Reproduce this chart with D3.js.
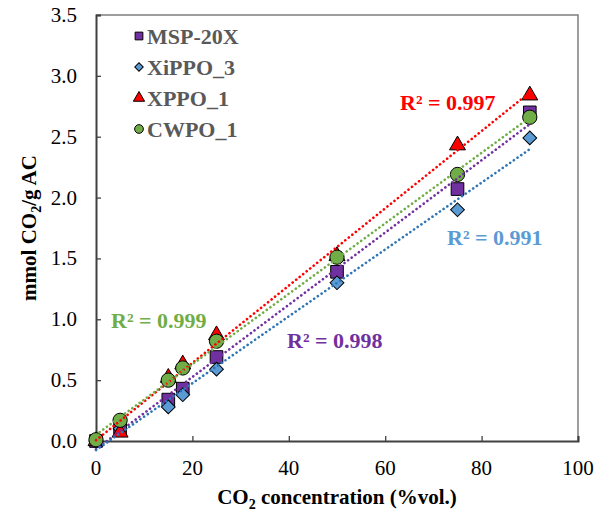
<!DOCTYPE html>
<html>
<head>
<meta charset="utf-8">
<script src="https://cdn.jsdelivr.net/npm/d3@7"></script>
<style>
  body { margin: 0; background: #fff; }
  svg { display: block; font-family: "Liberation Serif", "Times New Roman", serif; }
</style>
</head>
<body>
<svg id="chart" width="599" height="520"></svg>
<script>
// CO2 concentration (%vol.)
const conc = [0, 5, 15, 18, 25, 50, 75, 90];
// mmol CO2 / g AC
const msp20x = [0.00, 0.09, 0.34, 0.43, 0.69, 1.39, 2.07, 2.70];
const xippo3 = [0.00, 0.10, 0.28, 0.38, 0.59, 1.30, 1.90, 2.49];
const xppo1  = [0.00, 0.07, 0.52, 0.63, 0.87, 1.52, 2.43, 2.84];
const cwpo1  = [0.01, 0.17, 0.50, 0.60, 0.82, 1.51, 2.19, 2.66];
const r2Text = ["R² = 0.998", "R² = 0.991", "R² = 0.997", "R² = 0.999"];
const xTicks = [0, 20, 40, 60, 80, 100];
const yTicks = [0, 0.5, 1, 1.5, 2, 2.5, 3, 3.5];

const series = [
  {name: "MSP-20X",  values: msp20x, shape: "square",   fill: "#7030A0", line: "#7030A0", label: "#7030A0", r2: r2Text[0], lx: 287, ly: 348},
  {name: "XiPPO_3",  values: xippo3, shape: "diamond",  fill: "#5B9BD5", line: "#2E75B6", label: "#5B9BD5", r2: r2Text[1], lx: 447, ly: 245},
  {name: "XPPO_1",   values: xppo1,  shape: "triangle", fill: "#FF0000", line: "#FF0000", label: "#FF0000", r2: r2Text[2], lx: 400, ly: 110},
  {name: "CWPO_1",   values: cwpo1,  shape: "circle",   fill: "#70AD47", line: "#70AD47", label: "#70AD47", r2: r2Text[3], lx: 111, ly: 328}
];

const width = 599, height = 520;
const margin = {top: 15, right: 21, bottom: 79, left: 96};

const svg = d3.select("#chart");

const x = d3.scaleLinear([0, 100], [margin.left, width - margin.right]);
const y = d3.scaleLinear([0, 3.5], [height - margin.bottom, margin.top]);

// frame (top/right lighter)
svg.append("path")
    .attr("fill", "none")
    .attr("stroke", "#7f7f7f")
    .attr("stroke-width", 1.5)
    .attr("d", `M${x(0)},${y(3.5)}H${x(100)}V${y(0)}`);

// axes
svg.append("g")
    .attr("transform", `translate(0,${y(0)})`)
    .call(d3.axisTop(x).tickValues(xTicks).tickSize(5).tickFormat(""))
    .call(g => g.select(".domain").attr("stroke", "#404040").attr("stroke-width", 2))
    .call(g => g.selectAll(".tick line").attr("stroke", "#404040").attr("stroke-width", 1.3));

svg.append("g")
    .attr("transform", `translate(${x(0)},0)`)
    .call(d3.axisRight(y).tickValues(yTicks).tickSize(5).tickFormat(""))
    .call(g => g.select(".domain").attr("stroke", "#404040").attr("stroke-width", 2))
    .call(g => g.selectAll(".tick line").attr("stroke", "#404040").attr("stroke-width", 1.3));

// tick labels
svg.append("g")
    .selectAll("text")
    .data(xTicks)
    .join("text")
      .attr("x", d => x(d))
      .attr("y", 475)
      .attr("text-anchor", "middle")
      .attr("font-size", 21)
      .text(d => d);

svg.append("g")
    .selectAll("text")
    .data(yTicks)
    .join("text")
      .attr("x", 77)
      .attr("y", d => y(d) + 7)
      .attr("text-anchor", "end")
      .attr("font-size", 21)
      .text(d => d3.format(".1f")(d));

// axis titles
const xt = svg.append("text")
    .attr("x", (x(0) + x(100)) / 2)
    .attr("y", 504)
    .attr("text-anchor", "middle")
    .attr("font-size", 21)
    .attr("font-weight", "bold");
xt.append("tspan").text("CO");
xt.append("tspan").attr("font-size", 14).attr("dy", 5).text("2");
xt.append("tspan").attr("dy", -5).text(" concentration (%vol.)");

const yt = svg.append("text")
    .attr("transform", `translate(36,${(y(0) + y(3.5)) / 2}) rotate(-90)`)
    .attr("text-anchor", "middle")
    .attr("font-size", 21)
    .attr("font-weight", "bold");
yt.append("tspan").text("mmol CO");
yt.append("tspan").attr("font-size", 14).attr("dy", 5).text("2");
yt.append("tspan").attr("dy", -5).text("/g AC");

// markers
const symbolType = {square: d3.symbolSquare, diamond: d3.symbolSquare, triangle: d3.symbolTriangle, circle: d3.symbolCircle};
const symbolSize = {square: 160, diamond: 95, triangle: 110, circle: 160};
const rot = s => s === "diamond" ? " rotate(45)" : "";

const marks = svg.append("g");
series.forEach(s => {
  marks.append("g")
    .selectAll("path")
    .data(conc.map((c, i) => [c, s.values[i]]))
    .join("path")
      .attr("transform", d => `translate(${x(d[0])},${y(d[1])})${rot(s.shape)}`)
      .attr("d", d3.symbol(symbolType[s.shape], symbolSize[s.shape]))
      .attr("fill", s.fill)
      .attr("stroke", "#000")
      .attr("stroke-width", 1);
});

// linear trendlines (least squares of the read values)
function fit(xs, ys) {
  const mx = d3.mean(xs), my = d3.mean(ys);
  const b = d3.sum(xs, (v, i) => (v - mx) * (ys[i] - my)) / d3.sum(xs, v => (v - mx) ** 2);
  return [b, my - b * mx];
}
const xMin = d3.min(conc), xMax = d3.max(conc);
series.forEach(s => {
  const [b, a] = fit(conc, s.values);
  svg.append("line")
      .attr("x1", x(xMin)).attr("y1", y(a + b * xMin))
      .attr("x2", x(xMax)).attr("y2", y(a + b * xMax))
      .attr("stroke", s.line)
      .attr("stroke-width", 2.6)
      .attr("stroke-linecap", "round")
      .attr("stroke-dasharray", "0.1 4.4");
});

// R² labels
svg.append("g")
  .selectAll("text")
  .data(series)
  .join("text")
    .attr("x", d => d.lx)
    .attr("y", d => d.ly)
    .attr("font-size", 22)
    .attr("font-weight", "bold")
    .attr("fill", d => d.label)
    .text(d => d.r2);

// legend
const legend = svg.append("g")
  .selectAll("g")
  .data(series)
  .join("g")
    .attr("transform", (d, i) => `translate(139,${36 + i * 31})`);

legend.append("path")
    .attr("transform", d => rot(d.shape))
    .attr("d", d => d3.symbol(symbolType[d.shape], d.shape === "triangle" ? 55 : d.shape === "diamond" ? 36 : 60)())
    .attr("fill", d => d.fill)
    .attr("stroke", "#000")
    .attr("stroke-width", 1);

legend.append("text")
    .attr("x", 8)
    .attr("y", 8)
    .attr("font-size", 22)
    .attr("font-weight", "bold")
    .attr("fill", "#595959")
    .text(d => d.name);
</script>
</body>
</html>
